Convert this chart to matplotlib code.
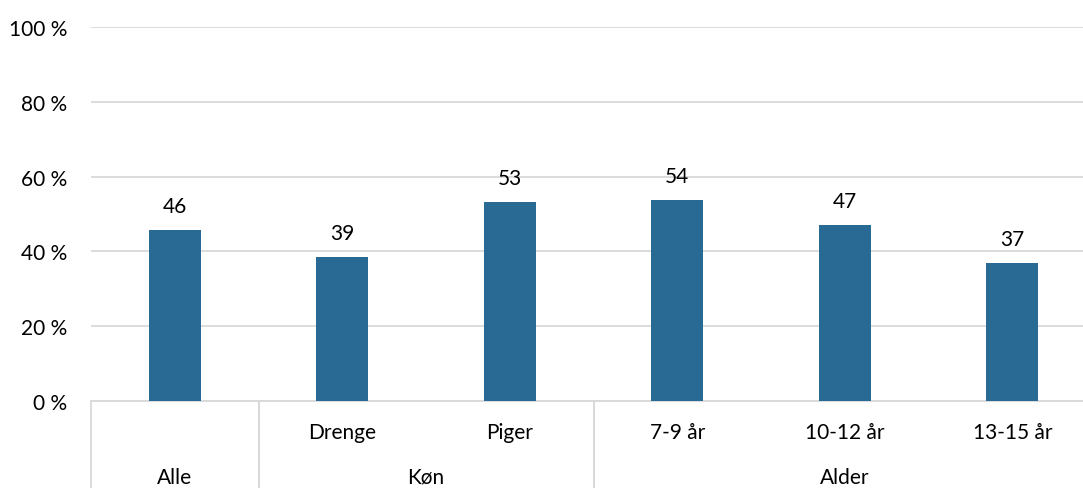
import matplotlib.pyplot as plt
import matplotlib.transforms as mtransforms

categories = ["", "Drenge", "Piger", "7-9 år", "10-12 år", "13-15 år"]
values = [45.7, 38.5, 53.2, 53.7, 47.1, 36.9]
labels = ["46", "39", "53", "54", "47", "37"]
groups = ["Alle", "Køn", "Alder"]
group_spans = [(0, 0), (1, 2), (3, 5)]
yticks = [0, 20, 40, 60, 80, 100]

plt.rcParams['font.family'] = ['Lato', 'DejaVu Sans']
plt.rcParams['font.size'] = 15

fig = plt.figure(figsize=(10.83, 4.89), dpi=100)
ax = fig.add_axes([91 / 1083, 87 / 489, 1005 / 1083, 374 / 489])

x = list(range(len(values)))
ax.bar(x, values, width=0.31, color="#286a93", zorder=3)
for xi, v, lab in zip(x, values, labels):
    ax.text(xi, v + 3.8, lab, ha="center", va="bottom")

ax.set_xlim(-0.5, len(values) - 0.5)
ax.set_ylim(0, 100)
ax.set_yticks(yticks)
ax.set_yticklabels([f"{t} %" for t in yticks])
ax.yaxis.grid(True, color="#d9d9d9", linewidth=1.3, zorder=0)
ax.tick_params(axis="y", length=0, pad=17)
ax.tick_params(axis="x", length=0)
ax.set_xticks([])
for side in ["top", "right", "left"]:
    ax.spines[side].set_visible(False)
ax.spines["bottom"].set_color("#d9d9d9")
ax.spines["bottom"].set_linewidth(1.3)

trans = mtransforms.blended_transform_factory(ax.transData, ax.transAxes)
for xi, cat in zip(x, categories):
    ax.text(xi, -0.083, cat, transform=trans, ha="center", va="center")
for name, (a, b) in zip(groups, group_spans):
    ax.text((a + b) / 2, -0.203, name, transform=trans, ha="center",
            va="center")
    for edge in (a - 0.5, b + 0.5):
        ax.plot([edge, edge], [0, -0.24], transform=trans, color="#d9d9d9",
                linewidth=1.3, clip_on=False)

fig.savefig("out.png", dpi=100)
